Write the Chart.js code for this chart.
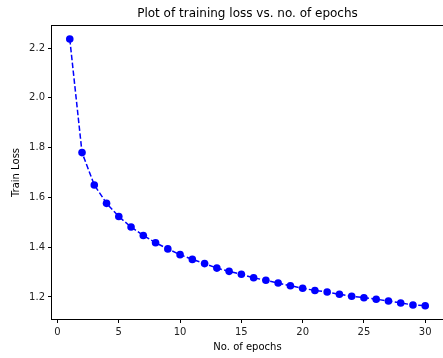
<!DOCTYPE html>
<html>
<head>
<meta charset="utf-8">
<script src="https://cdn.jsdelivr.net/npm/chart.js@4"></script>
<style>
  html, body { margin: 0; padding: 0; background: #fff; overflow: hidden; }
</style>
</head>
<body>
<canvas id="lossChart" width="443" height="358"></canvas>
<script>
// values
const epochs = [1, 2, 3, 4, 5, 6, 7, 8, 9, 10, 11, 12, 13, 14, 15,
  16, 17, 18, 19, 20, 21, 22, 23, 24, 25, 26, 27, 28, 29, 30];
const trainLoss = [2.236, 1.780, 1.650, 1.576, 1.523, 1.481, 1.447, 1.418, 1.393, 1.370,
  1.351, 1.334, 1.316, 1.303, 1.291, 1.277, 1.267, 1.256, 1.245, 1.235,
  1.226, 1.220, 1.211, 1.203, 1.197, 1.191, 1.184, 1.176, 1.168, 1.165];
const xTicks = [0, 5, 10, 15, 20, 25, 30];
const yTicks = [1.2, 1.4, 1.6, 1.8, 2.0, 2.2];

const FONT = "'DejaVu Sans', sans-serif";

// matplotlib style box around the axes
const frame = {
  id: "frame",
  afterDraw(chart) {
    const { ctx, chartArea: a } = chart;
    ctx.save();
    ctx.strokeStyle = "#000";
    ctx.lineWidth = 1;
    ctx.strokeRect(Math.round(a.left) - 0.5, Math.round(a.top) - 0.5,
      Math.round(a.right - a.left) + 1, Math.round(a.bottom - a.top) + 1);
    ctx.restore();
  }
};

const ctx = document.getElementById("lossChart").getContext("2d");
new Chart(ctx, {
  type: "line",
  data: {
    datasets: [{
      data: epochs.map((e, i) => ({ x: e, y: trainLoss[i] })),
      borderColor: "#0000ff",
      backgroundColor: "#0000ff",
      borderWidth: 1.5,
      borderDash: [5.5, 2.4],
      pointRadius: 3.8,
      pointBorderWidth: 0,
      pointBackgroundColor: "#0000ff",
      tension: 0,
      fill: false,
      clip: false
    }]
  },
  options: {
    responsive: false,
    animation: false,
    // plot box runs just past the right edge, like the reference
    layout: { autoPadding: false, padding: { left: 0, right: -2, top: 0, bottom: 0 } },
    plugins: {
      legend: { display: false },
      tooltip: { enabled: false },
      title: {
        display: true,
        text: "Plot of training loss vs. no. of epochs",
        color: "#000",
        fullSize: false,
        font: { family: FONT, size: 12, weight: "normal", lineHeight: 1.2 },
        padding: { top: 7, bottom: 4.6 }
      }
    },
    scales: {
      x: {
        type: "linear",
        min: -0.45,
        max: 31.45,
        afterBuildTicks: s => { s.ticks = xTicks.map(v => ({ value: v })); },
        afterFit: s => { s.height = 39; s.paddingLeft = 0; s.paddingRight = 0; },
        grid: { display: true, drawOnChartArea: false, drawTicks: true, tickLength: 4, tickColor: "#000", tickWidth: 1 },
        border: { display: false },
        ticks: { color: "#222", font: { family: FONT, size: 10 }, padding: 3, maxRotation: 0 },
        title: {
          display: true, text: "No. of epochs", color: "#000",
          font: { family: FONT, size: 10, lineHeight: 1.2 }, padding: { top: 0, bottom: 5 }
        }
      },
      y: {
        type: "linear",
        min: 1.1115,
        max: 2.2885,
        afterBuildTicks: s => { s.ticks = yTicks.map(v => ({ value: v })); },
        afterFit: s => { s.width = 52; s.paddingTop = 0; s.paddingBottom = 0; },
        grid: { display: true, drawOnChartArea: false, drawTicks: true, tickLength: 4, tickColor: "#000", tickWidth: 1 },
        border: { display: false },
        ticks: { color: "#222", font: { family: FONT, size: 10 }, padding: 3, callback: v => v.toFixed(1) },
        title: {
          display: true, text: "Train Loss", color: "#000",
          font: { family: FONT, size: 10, lineHeight: 1.2 }, padding: { top: 10, bottom: 0 }
        }
      }
    }
  },
  plugins: [frame]
});
</script>
</body>
</html>
